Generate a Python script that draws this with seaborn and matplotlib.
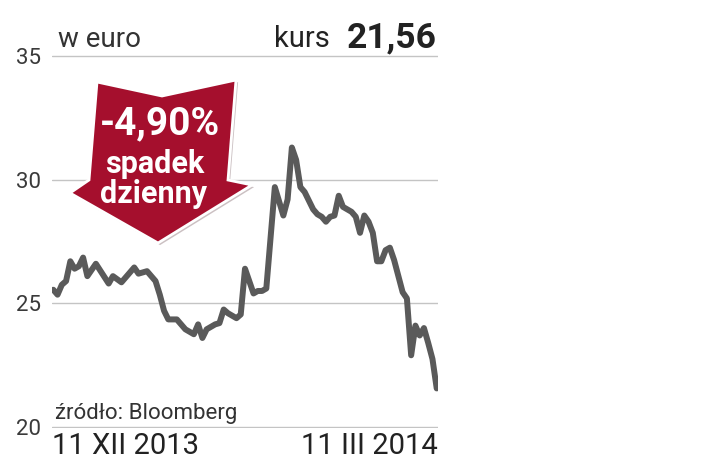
import matplotlib
matplotlib.use('Agg')
import matplotlib.pyplot as plt
import matplotlib.patheffects as pe
from matplotlib.patches import Polygon
import seaborn as sns
import pandas as pd

# days since 11 XII 2013 and closing price (EUR)
dni = [0, 1, 2, 3, 4, 5, 6, 7, 8, 10, 13, 14, 16, 19, 20, 22, 24, 25, 26, 27,
       29, 30, 31, 33, 34, 35, 36, 38, 39, 40, 41, 43, 44, 45, 47, 48, 49, 50,
       52, 54, 55, 56, 57, 58, 59, 61, 62, 63, 64, 65, 66, 67, 68, 70, 71, 72,
       73, 74, 75, 76, 77, 78, 79, 80, 81, 82, 83, 84, 85, 86, 87, 88, 89, 90]
kurs = [25.55, 25.35, 25.75, 25.9, 26.7, 26.4, 26.5, 26.85, 26.1, 26.6, 25.8,
        26.1, 25.85, 26.45, 26.2, 26.3, 25.9, 25.35, 24.7, 24.35, 24.35, 24.15,
        23.95, 23.75, 24.15, 23.6, 23.95, 24.15, 24.2, 24.75, 24.6, 24.4, 24.55,
        26.4, 25.4, 25.5, 25.5, 25.6, 29.7, 28.55, 29.2, 31.3, 30.8, 29.7, 29.5,
        28.8, 28.6, 28.5, 28.3, 28.5, 28.55, 29.35, 28.9, 28.7, 28.5, 27.85,
        28.55, 28.3, 27.85, 26.7, 26.7, 27.15, 27.25, 26.75, 26.1, 25.45, 25.2,
        22.9, 24.1, 23.7, 24.0, 23.4, 22.75, 21.56]
y_ticks = [20, 25, 30, 35]
daty = ['11 XII 2013', '11 III 2014']

df = pd.DataFrame({'dzien': dni, 'kurs': kurs})

sns.set_style('white')
plt.rcParams['font.family'] = ['Roboto', 'DejaVu Sans']

fig = plt.figure(figsize=(7.2, 4.71), dpi=100)
ax = fig.add_axes([52 / 720, 1 - 428 / 471, 386 / 720, 373 / 471])

sns.lineplot(data=df, x='dzien', y='kurs', ax=ax, color='#5a5a5a', lw=4.3,
             solid_capstyle='round', solid_joinstyle='round', zorder=3)

ax.set_xlim(-0.3, 90.3)
ax.set_ylim(19.96, 35.04)
ax.set_yticks(y_ticks)
ax.set_yticklabels([str(t) for t in y_ticks], fontsize=16, color='#3a3a3a')
ax.set_xticks([])
ax.set_xlabel('')
ax.set_ylabel('')
ax.tick_params(axis='y', length=0, pad=8)
ax.yaxis.grid(True, color='#c4c4c4', lw=1.0)
ax.set_axisbelow(True)
sns.despine(ax=ax, left=True, bottom=True)

# dates under the axis
ax.text(0, -0.012, daty[0], transform=ax.transAxes, ha='left', va='top',
        fontsize=21, color='#222222')
ax.text(1, -0.012, daty[1], transform=ax.transAxes, ha='right', va='top',
        fontsize=21, color='#222222')

# header
fig.text(58 / 720, 1 - 47 / 471, 'w euro', fontsize=20, color='#333333',
         va='baseline', ha='left')
fig.text(330 / 720, 1 - 47 / 471, 'kurs', fontsize=21, color='#222222',
         va='baseline', ha='right')
fig.text(437 / 720, 1 - 47 / 471, '21,56', fontsize=25.5, fontweight='bold',
         color='#222222', va='baseline', ha='right')

fig.text(55 / 720, 1 - 419 / 471, 'źródło: Bloomberg', fontsize=16,
         color='#333333', va='baseline', ha='left')

# red arrow badge
pts = [(97, 82), (162, 96), (236, 80), (228, 180), (252, 185), (158, 243),
       (70, 193), (89, 180)]
arrow = Polygon([(x / 720, 1 - y / 471) for x, y in pts], closed=True,
                transform=fig.transFigure, facecolor='#a50f2d',
                edgecolor='white', lw=2, zorder=5,
                path_effects=[pe.SimplePatchShadow(offset=(1.5, -1.5), alpha=0.25),
                              pe.Normal()])
fig.add_artist(arrow)

fig.text(160 / 720, 1 - 124 / 471, '-4,90%', fontsize=28, fontweight='bold',
         color='white', ha='center', va='center', zorder=6)
fig.text(155 / 720, 1 - 164 / 471, 'spadek', fontsize=22, fontweight='bold',
         color='white', ha='center', va='center', zorder=6)
fig.text(154 / 720, 1 - 194 / 471, 'dzienny', fontsize=22, fontweight='bold',
         color='white', ha='center', va='center', zorder=6)

fig.savefig('out.png', dpi=100)
